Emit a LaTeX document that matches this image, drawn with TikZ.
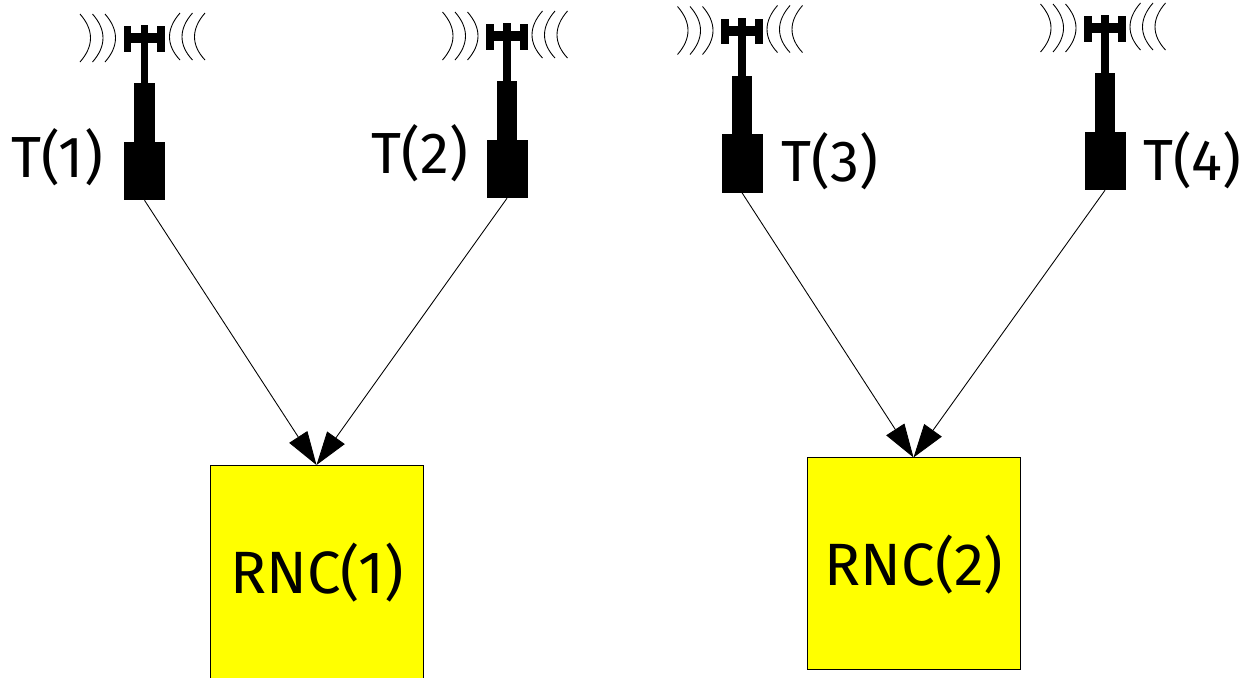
\documentclass[tikz,border=0pt]{standalone}
\usepackage{fontspec}
\setmainfont{Fira Sans}[Scale=1]
\usetikzlibrary{arrows.meta}
\definecolor{rncyellow}{RGB}{255,255,0}
\tikzset{
  x=0.02cm,y=-0.02cm,
  blk/.style={fill=black,draw=none,inner sep=0pt,outer sep=0pt,rectangle},
  wave/.style={draw=black,line width=0.5pt},
  rnc/.style={draw=black,fill=rncyellow,line width=0.5pt,minimum width=4.26cm,minimum height=4.24cm,inner sep=0pt,outer sep=0pt},
  rnctext/.style={inner sep=0pt,font=\fontsize{34}{34}\selectfont},
  lbl/.style={inner sep=0pt,font=\fontsize{33}{33}\selectfont},
  link/.style={draw=black,line width=0.5pt,-{Triangle[length=0.67cm,width=0.43cm]},shorten >=0pt},
  pics/tower/.style={code={
    \node[blk,minimum width=0.82cm,minimum height=1.17cm] (-base) at (0,-29) {};
    \fill (-10.5,-117) rectangle (10,-58.5);
    \fill (-3.7,-175) rectangle (3.6,-117);
    \fill (-20.8,-174) rectangle (-13.2,-148.5);
    \fill (12.8,-174) rectangle (20.5,-148.5);
    \fill (-20.8,-167) rectangle (20.5,-157);
    \foreach \d in {0,12.5,25}{
      \draw[wave] (-64.5+\d,-186) .. controls (-50.5+\d,-170) and (-50.5+\d,-154) .. (-64.5+\d,-138);
      \draw[wave] (35.5+\d,-187) .. controls (21.5+\d,-171) and (21.5+\d,-155) .. (35.5+\d,-140);
    }
  }}
}
\begin{document}
\begin{tikzpicture}
\useasboundingbox (0,0) rectangle (1243,677);
\begin{scope}
\clip (0,0) rectangle (1243,677);
\node[rnc,minimum height=4.3cm] (rnc1) at (316.5,572.5) {};
\node[rnc] (rnc2) at (913.5,563.5) {};
\end{scope}
\node[rnctext] (l1) at (317,573) {RNC(1)};
\node[rnctext] (l2) at (914,565) {RNC(2)};
\pic (t1) at (144.5,200) {tower};
\pic (t2) at (507,198) {tower};
\pic (t3) at (742,192.5) {tower};
\pic (t4) at (1105,190) {tower};
\node[lbl] (n1) at (57,157) {T(1)};
\node[lbl] (n2) at (420,153) {T(2)};
\node[lbl] (n3) at (830,161) {T(3)};
\node[lbl] (n4) at (1192,160) {T(4)};
\draw[link] (t1-base.south) -- (rnc1.north);
\draw[link] (t2-base.south) -- (rnc1.north);
\draw[link] (t3-base.south) -- (rnc2.north);
\draw[link] (t4-base.south) -- (rnc2.north);
\end{tikzpicture}
\end{document}
